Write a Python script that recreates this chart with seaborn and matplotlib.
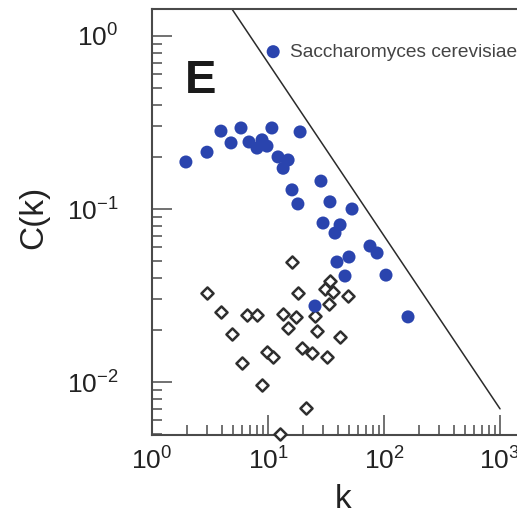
import numpy as np
import pandas as pd
import matplotlib
matplotlib.use("Agg")
import matplotlib.pyplot as plt
import seaborn as sns
from matplotlib.ticker import FixedLocator, FixedFormatter, LogLocator, NullFormatter

# ---- data ----
yeast_k = [1.96, 2.98, 3.93, 4.80, 5.85, 6.86, 8.04, 8.88, 9.80, 10.8,
           12.2, 13.5, 14.9, 18.9, 16.1, 18.1, 28.6, 34.2, 53.0, 29.8,
           41.8, 37.8, 75.7, 87.1, 39.3, 49.9, 46.1, 104.0, 25.4, 161.0]
yeast_C = [0.187, 0.213, 0.282, 0.241, 0.294, 0.244, 0.225, 0.251, 0.231, 0.294,
           0.200, 0.172, 0.192, 0.279, 0.129, 0.107, 0.145, 0.110, 0.100, 0.083,
           0.081, 0.0726, 0.0611, 0.0557, 0.0494, 0.0528, 0.0410, 0.0415, 0.0275, 0.0238]

random_k = [16.1, 2.98, 18.1, 48.9, 31.0, 34.2, 36.3, 33.6, 3.93, 6.59,
            8.04, 13.5, 17.4, 25.4, 14.9, 4.89, 26.5, 41.8, 19.6, 23.9,
            9.80, 11.0, 32.3, 5.97, 8.88, 21.3, 12.7]
random_C = [0.0494, 0.0327, 0.0327, 0.0314, 0.0345, 0.0384, 0.0331, 0.0282, 0.0254, 0.0244,
            0.0244, 0.0247, 0.0238, 0.0241, 0.0205, 0.0189, 0.0197, 0.0182, 0.0157, 0.0147,
            0.0149, 0.0140, 0.0140, 0.0129, 0.00962, 0.00708, 0.00500]

line_k = [1.0, 1000.0]
line_C = [7.0, 0.007]

x_ticks = [1, 10, 100, 1000]
x_tick_labels = [r"$\mathregular{10^{0}}$", r"$\mathregular{10^{1}}$",
                 r"$\mathregular{10^{2}}$", r"$\mathregular{10^{3}}$"]
y_ticks = [0.01, 0.1, 1.0]
y_tick_labels = [r"$\mathregular{10^{-2}}$", r"$\mathregular{10^{-1}}$",
                 r"$\mathregular{10^{0}}$"]
series_label = "Saccharomyces cerevisiae"
panel_letter = "E"
x_label = "k"
y_label = "C(k)"

# ---- style ----
sns.set_style("white")
plt.rcParams['font.family'] = ['Liberation Sans', 'DejaVu Sans']
plt.rcParams['mathtext.fontset'] = 'custom'
plt.rcParams['mathtext.rm'] = 'Liberation Sans'
plt.rcParams['mathtext.it'] = 'Liberation Sans:italic'
plt.rcParams['mathtext.bf'] = 'Liberation Sans:bold'

blue = "#2a44ae"
dark = "#2b2b2b"
spine_col = "#4a4a4a"

W, H = 517, 514
fig = plt.figure(figsize=(W / 100, H / 100), dpi=100)
ax = fig.add_axes([152 / W, 79 / H, 384 / W, 426 / H])

yeast = pd.DataFrame({"k": yeast_k, "C": yeast_C})
rnd = pd.DataFrame({"k": random_k, "C": random_C})
ln = pd.DataFrame({"k": line_k, "C": line_C})

sns.lineplot(data=ln, x="k", y="C", ax=ax, color=dark, linewidth=1.1, legend=False)
sns.scatterplot(data=rnd, x="k", y="C", ax=ax, marker="D", s=38,
                facecolor="white", edgecolor="#2e2e2e", linewidth=1.8,
                legend=False, clip_on=False, zorder=3)
sns.scatterplot(data=yeast, x="k", y="C", ax=ax, color=blue, s=88,
                edgecolor="none", legend=False, zorder=4)

ax.set_xscale("log")
ax.set_yscale("log")
ax.set_xlim(1, 10 ** 3.31)
ax.set_ylim(10 ** -2.306, 10 ** 0.156)

ax.xaxis.set_major_locator(FixedLocator(x_ticks))
ax.xaxis.set_major_formatter(FixedFormatter(x_tick_labels))
ax.yaxis.set_major_locator(FixedLocator(y_ticks))
ax.yaxis.set_major_formatter(FixedFormatter(y_tick_labels))
ax.xaxis.set_minor_locator(LogLocator(base=10, subs=np.arange(2, 10), numticks=20))
ax.yaxis.set_minor_locator(LogLocator(base=10, subs=np.arange(2, 10), numticks=20))
ax.xaxis.set_minor_formatter(NullFormatter())
ax.yaxis.set_minor_formatter(NullFormatter())

ax.tick_params(which="both", direction="in", bottom=True, left=True,
               top=False, right=False, color=spine_col, width=1.1)
ax.tick_params(which="major", length=14.5)
ax.tick_params(which="minor", length=7.5)
ax.tick_params(axis="x", which="major", labelsize=19, pad=9, labelcolor="#222222")
ax.tick_params(axis="y", which="major", labelsize=19, pad=24, labelcolor="#222222")

for side in ["left", "top", "bottom"]:
    ax.spines[side].set_visible(True)
    ax.spines[side].set_color(spine_col)
    ax.spines[side].set_linewidth(1.5)
ax.spines["right"].set_visible(False)

ax.set_xlabel(x_label, fontsize=24, color="#222222")
ax.set_ylabel(y_label, fontsize=24, color="#222222")
ax.xaxis.set_label_coords(0.497, -0.115)
ax.yaxis.set_label_coords(-0.268, 0.51)

ax.text(185 / W, 1 - 93 / H, panel_letter, transform=fig.transFigure,
        fontsize=34, fontweight="bold", color="#1a1a1a", ha="left", va="baseline")

handle = ax.collections[-1]
leg = ax.legend([handle], [series_label], loc="center left",
                bbox_to_anchor=(263.6 / W, 1 - 52 / H), bbox_transform=fig.transFigure,
                frameon=False, borderpad=0, borderaxespad=0, handlelength=1.0,
                handletextpad=0.4, fontsize=13.8, labelcolor="#444444")

fig.savefig("out.png", dpi=100)
